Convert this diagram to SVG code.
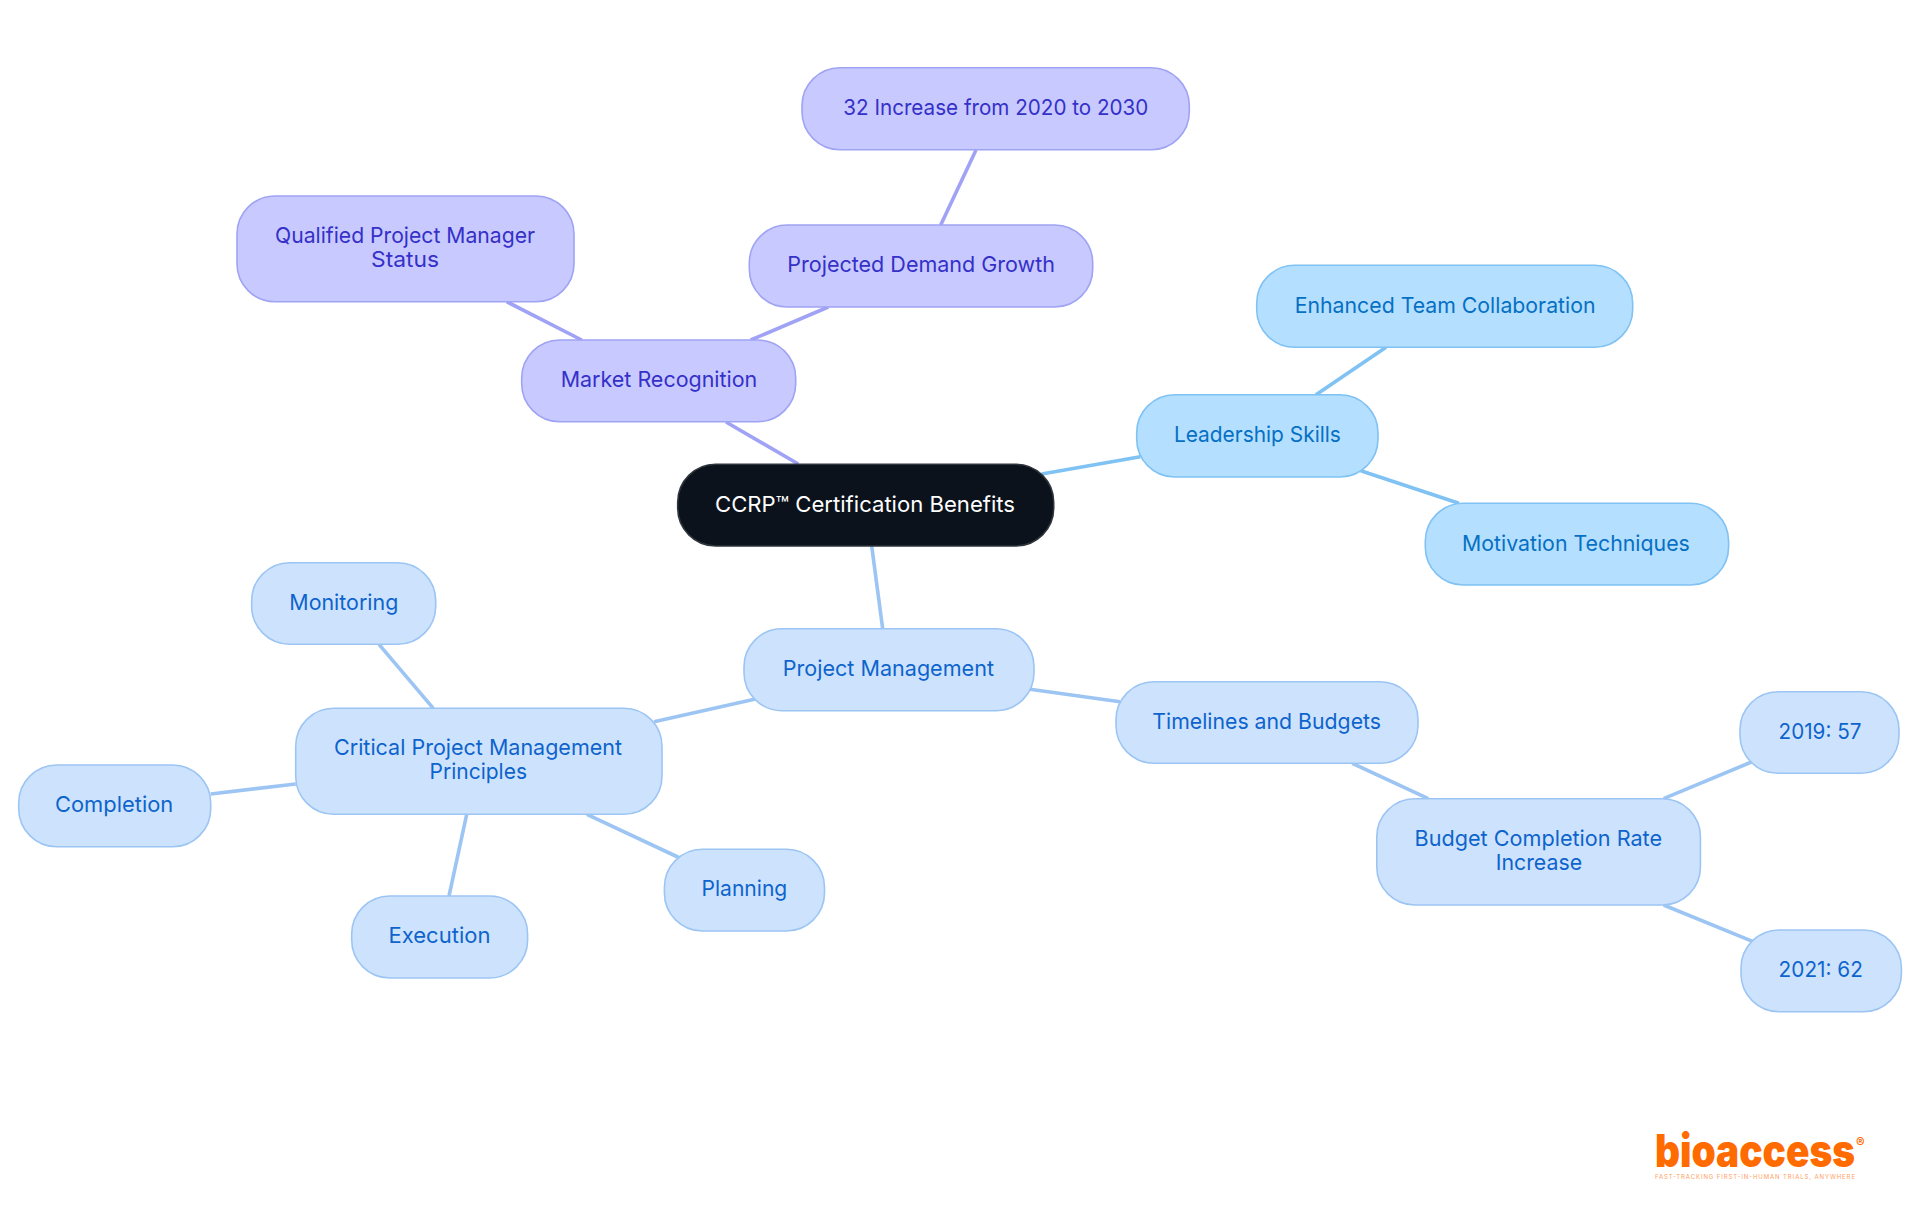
<svg xmlns="http://www.w3.org/2000/svg" width="1920" height="1215" viewBox="0 0 1920 1215">
<style>
text{font-family:"Inter","Noto Sans","Liberation Sans",sans-serif;font-size:22px;font-weight:400}
.n rect{stroke-width:1.6}
.p rect{fill:#c8caff;stroke:#9fa3f3}.p text{fill:#3530c8}
.b rect{fill:#cde3fd;stroke:#9cc5f3}.b text{fill:#0e63cc}
.c rect{fill:#b4dfff;stroke:#7fc2f3}.c text{fill:#0670c4}
.r rect{fill:#0b121b;stroke:#2f353c}.r text{fill:#fff}
#connectors line{stroke-width:3.6;fill:none}
.lp{stroke:#a0a3f5}.lb{stroke:#9cc5f3}.lc{stroke:#7fc2f3}
</style>
<g id="connectors">
<line class="lp" x1="976" y1="150" x2="940.7" y2="225"/>
<line class="lp" x1="828.3" y1="307" x2="750.7" y2="340"/>
<line class="lp" x1="506.7" y1="301.7" x2="581.7" y2="340"/>
<line class="lp" x1="726" y1="422" x2="798.3" y2="464"/>
<line class="lc" x1="1041.7" y1="474" x2="1140.4" y2="456.7"/>
<line class="lc" x1="1386" y1="347.3" x2="1316" y2="394.7"/>
<line class="lc" x1="1360.8" y1="470.7" x2="1458.8" y2="503.3"/>
<line class="lb" x1="871.7" y1="546" x2="882.7" y2="629"/>
<line class="lb" x1="654" y1="721.7" x2="760" y2="698"/>
<line class="lb" x1="379" y1="644.3" x2="433.3" y2="708.3"/>
<line class="lb" x1="210.7" y1="794" x2="295.7" y2="784"/>
<line class="lb" x1="466.7" y1="814.3" x2="449" y2="896"/>
<line class="lb" x1="586.9" y1="814.3" x2="682" y2="859"/>
<line class="lb" x1="1030" y1="689.3" x2="1120" y2="701.7"/>
<line class="lb" x1="1352.3" y1="763.3" x2="1428.3" y2="798.7"/>
<line class="lb" x1="1663.6" y1="798.7" x2="1755" y2="760.5"/>
<line class="lb" x1="1663.6" y1="905" x2="1755" y2="942.3"/>
</g>
<g id="node-root" class="n r"><rect x="677.7" y="464.3" width="376" height="81.7" rx="38"/><text x="715" y="512" textLength="300" lengthAdjust="spacingAndGlyphs">CCRP™ Certification Benefits</text></g>
<g id="node-market" class="n p"><rect x="521.7" y="340" width="274" height="81.7" rx="38"/><text x="560.7" y="387.3" textLength="196.6" lengthAdjust="spacingAndGlyphs">Market Recognition</text></g>
<g id="node-qualified" class="n p"><rect x="237" y="196" width="337" height="105.7" rx="38"/><text x="275" y="242.7" textLength="260" lengthAdjust="spacingAndGlyphs">Qualified Project Manager</text><text x="371" y="267" textLength="68" lengthAdjust="spacingAndGlyphs">Status</text></g>
<g id="node-demand" class="n p"><rect x="749.3" y="225" width="343.4" height="82" rx="38"/><text x="787.3" y="272" textLength="267.7" lengthAdjust="spacingAndGlyphs">Projected Demand Growth</text></g>
<g id="node-increase" class="n p"><rect x="802" y="67.7" width="387.3" height="82" rx="38"/><text x="843.3" y="115.3" textLength="305" lengthAdjust="spacingAndGlyphs">32 Increase from 2020 to 2030</text></g>
<g id="node-leadership" class="n c"><rect x="1136.7" y="394.7" width="241.3" height="82.3" rx="38"/><text x="1173.9" y="442" textLength="167" lengthAdjust="spacingAndGlyphs">Leadership Skills</text></g>
<g id="node-team" class="n c"><rect x="1256.7" y="265.3" width="376" height="82" rx="38"/><text x="1294.7" y="312.7" textLength="300.8" lengthAdjust="spacingAndGlyphs">Enhanced Team Collaboration</text></g>
<g id="node-motivation" class="n c"><rect x="1425.3" y="503.3" width="303.3" height="81.7" rx="38"/><text x="1462" y="551" textLength="227.8" lengthAdjust="spacingAndGlyphs">Motivation Techniques</text></g>
<g id="node-pm" class="n b"><rect x="744" y="628.7" width="290" height="82" rx="38"/><text x="782.7" y="676" textLength="211.3" lengthAdjust="spacingAndGlyphs">Project Management</text></g>
<g id="node-critical" class="n b"><rect x="295.7" y="708.3" width="366.3" height="106" rx="38"/><text x="334" y="754.7" textLength="288" lengthAdjust="spacingAndGlyphs">Critical Project Management</text><text x="429.5" y="779.3" textLength="97.5" lengthAdjust="spacingAndGlyphs">Principles</text></g>
<g id="node-monitoring" class="n b"><rect x="251.7" y="562.7" width="184" height="81.6" rx="38"/><text x="289.3" y="610" textLength="109" lengthAdjust="spacingAndGlyphs">Monitoring</text></g>
<g id="node-completion" class="n b"><rect x="18.7" y="765" width="192" height="81.7" rx="38"/><text x="55" y="811.7" textLength="118.3" lengthAdjust="spacingAndGlyphs">Completion</text></g>
<g id="node-execution" class="n b"><rect x="351.7" y="896" width="175.9" height="82" rx="38"/><text x="388.5" y="942.7" textLength="102" lengthAdjust="spacingAndGlyphs">Execution</text></g>
<g id="node-planning" class="n b"><rect x="664.4" y="849.3" width="160.1" height="81.7" rx="38"/><text x="701.5" y="896" textLength="85.8" lengthAdjust="spacingAndGlyphs">Planning</text></g>
<g id="node-timelines" class="n b"><rect x="1116" y="681.7" width="302" height="81.6" rx="38"/><text x="1152.3" y="729" textLength="228.7" lengthAdjust="spacingAndGlyphs">Timelines and Budgets</text></g>
<g id="node-budget" class="n b"><rect x="1376.8" y="798.7" width="323.6" height="106.3" rx="38"/><text x="1414.6" y="845.7" textLength="247.5" lengthAdjust="spacingAndGlyphs">Budget Completion Rate</text><text x="1495.7" y="870" textLength="86.4" lengthAdjust="spacingAndGlyphs">Increase</text></g>
<g id="node-2019" class="n b"><rect x="1740" y="691.7" width="159" height="81.6" rx="38"/><text x="1778.6" y="738.7" textLength="82.8" lengthAdjust="spacingAndGlyphs">2019: 57</text></g>
<g id="node-2021" class="n b"><rect x="1741" y="930" width="160.4" height="81.7" rx="38"/><text x="1778.6" y="976.7" textLength="84.3" lengthAdjust="spacingAndGlyphs">2021: 62</text></g>
<g id="logo">
<text x="1655" y="1167" textLength="200" lengthAdjust="spacingAndGlyphs" style="font-size:45px;font-weight:900;fill:#ff6b00">bioaccess</text>
<text x="1856" y="1147" style="font-size:13px;font-weight:700;fill:#ff6b00">®</text>
<text x="1655" y="1179" textLength="200" style="font-size:6px;font-weight:400;fill:#ff6b00;opacity:.65">FAST-TRACKING FIRST-IN-HUMAN TRIALS, ANYWHERE</text>
</g>
</svg>
